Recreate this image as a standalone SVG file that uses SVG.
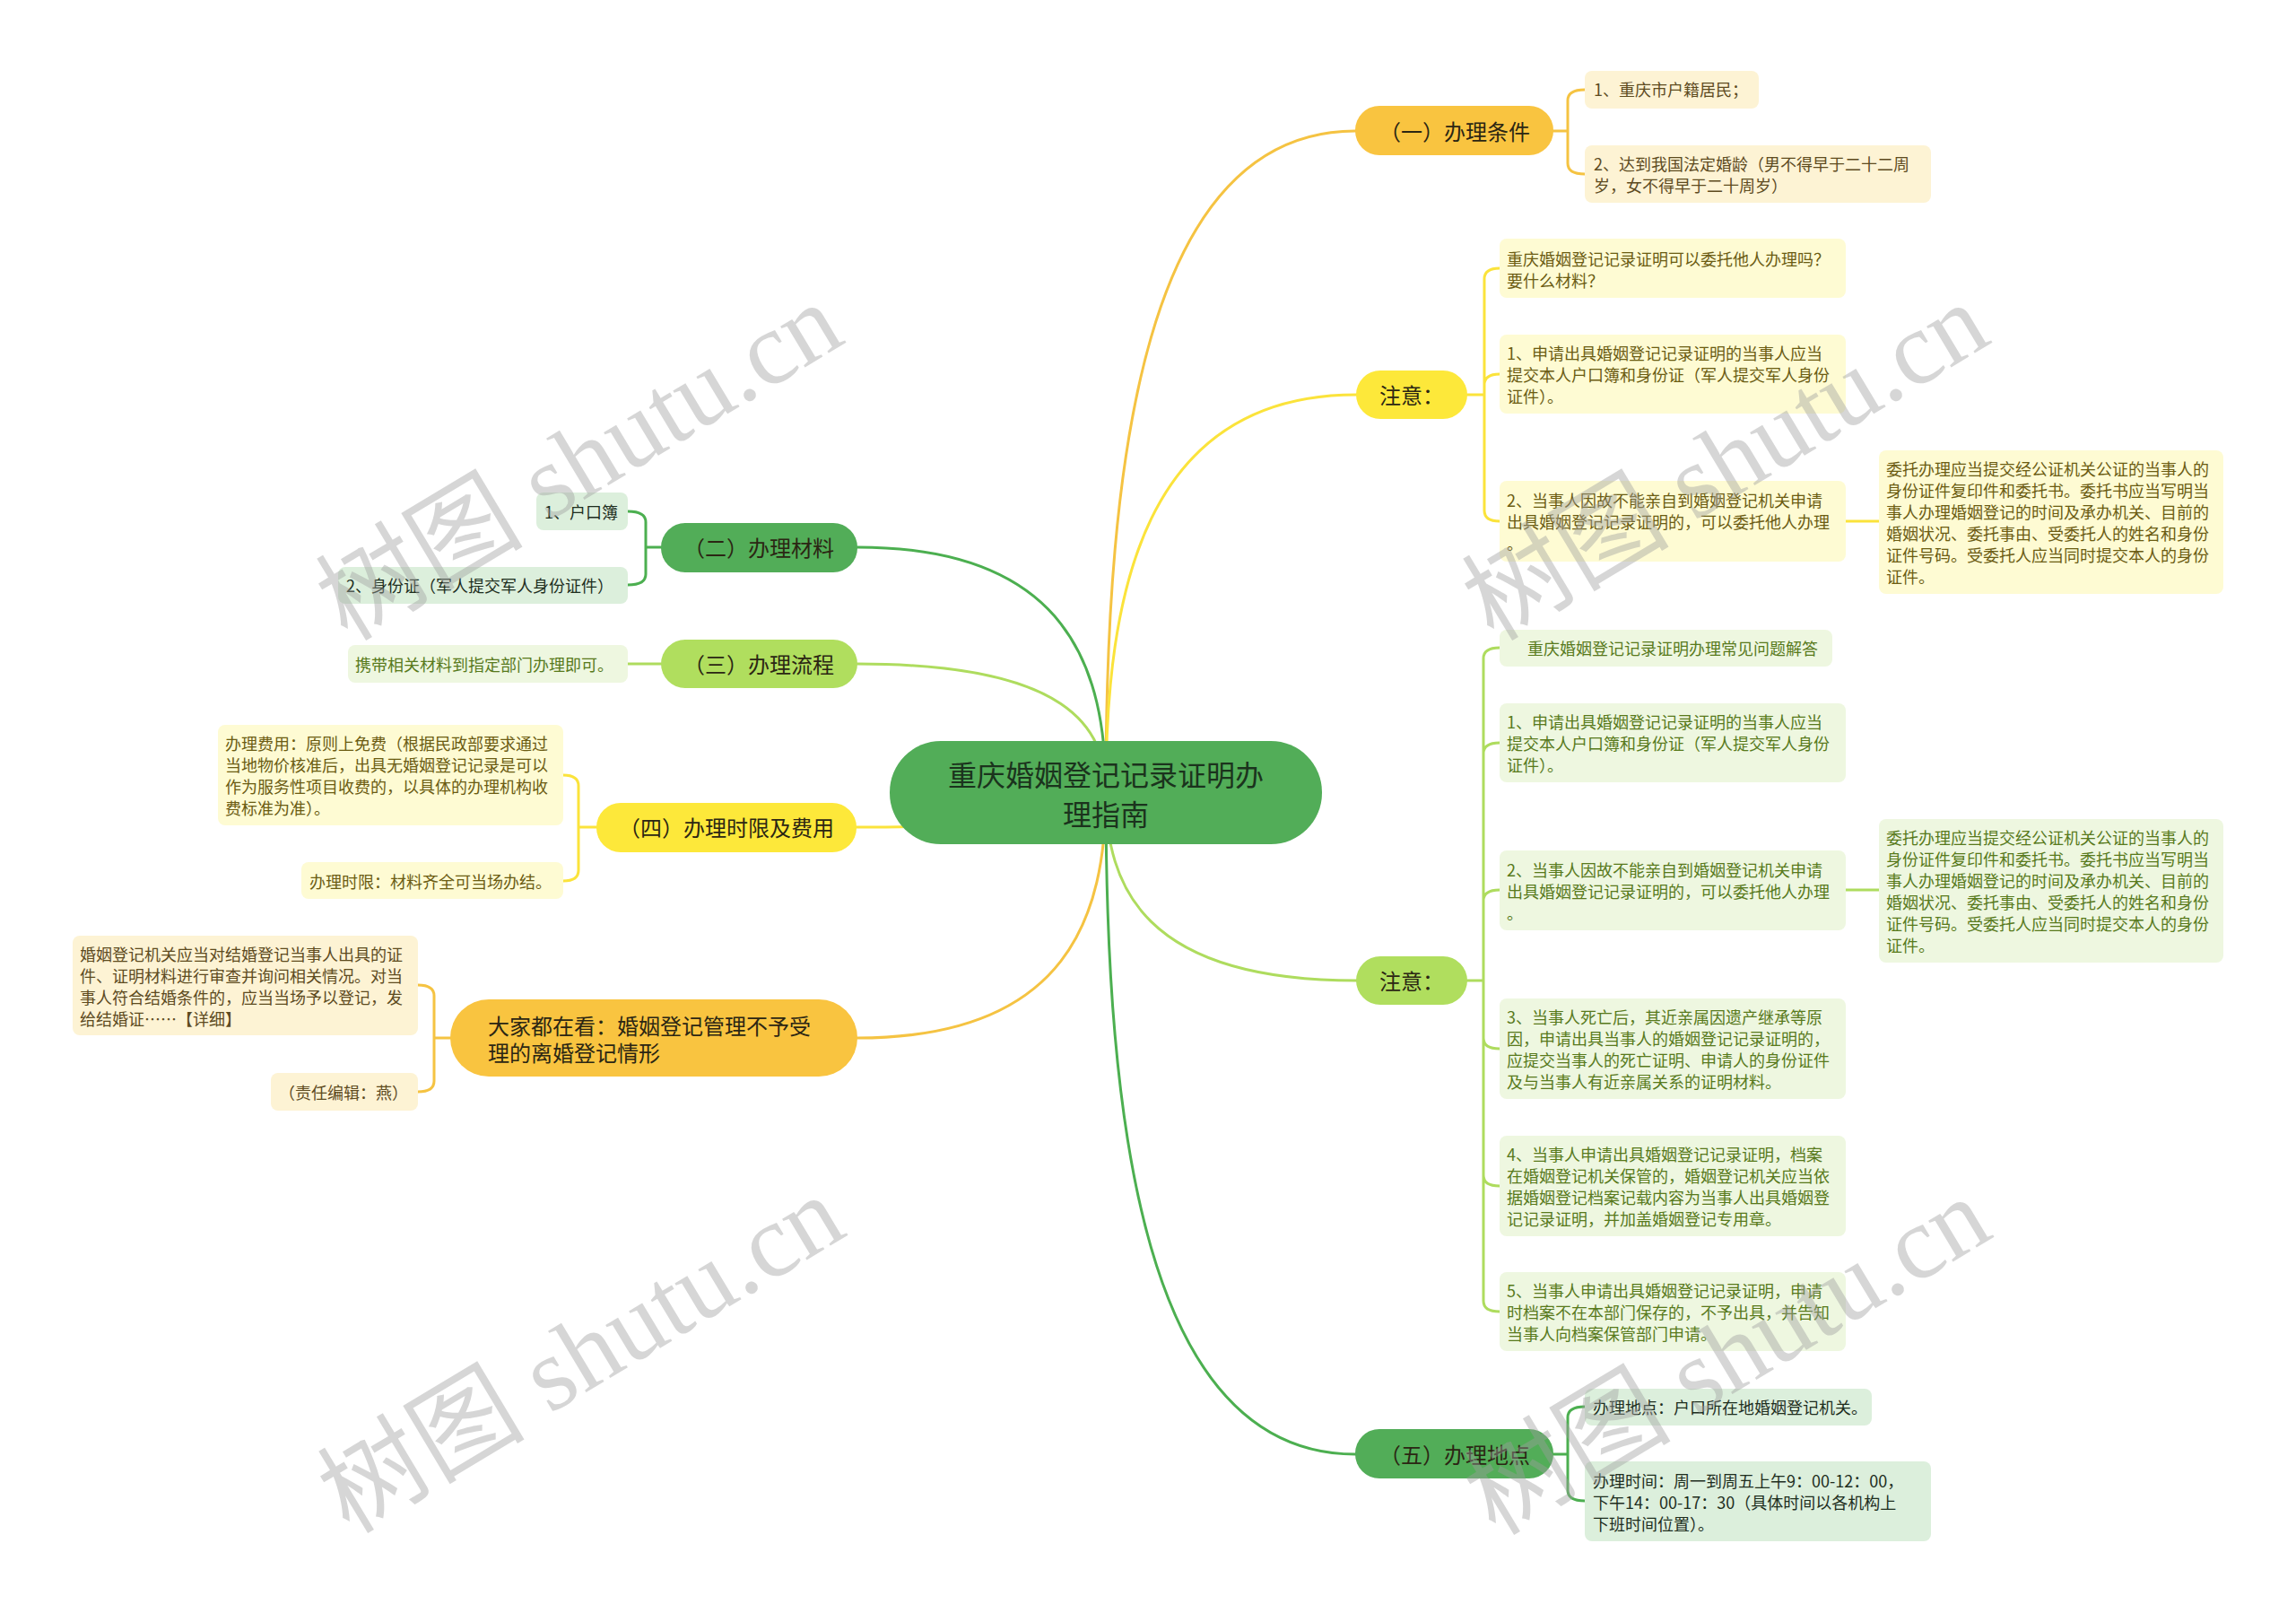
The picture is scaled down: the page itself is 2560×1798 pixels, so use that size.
<svg xmlns="http://www.w3.org/2000/svg" width="2560" height="1798" viewBox="0 0 2560 1798">
<style>
text{font-family:"Noto Sans CJK SC","Noto Sans",sans-serif;dominant-baseline:central}
.main{font-size:32px;fill:#1b331d;text-anchor:middle}
.br{font-size:24px;fill:#2b2613;text-anchor:middle}
.brl{font-size:24px;fill:#2b2613}
.t{font-size:18px}
.tg{fill:#5d4b1f}.ty{fill:#6b5c12}.tl{fill:#587a1c}.td{fill:#1e2e1e}
.bg{fill:#fdf3d4}.by{fill:#fefbd3}.bl{fill:#eef7e0}.bd{fill:#dcefdc}
.c{fill:none;stroke-width:3;stroke-linecap:round}
.cg{stroke:#f5c342}.cy{stroke:#fbe33b}.cl{stroke:#aedc5e}.cd{stroke:#4caf50}
.wm{font-family:"Liberation Serif","Noto Sans CJK SC",serif;font-size:116px;fill:#9e9e9e;fill-opacity:0.42;text-anchor:middle}
</style>
<rect width="2560" height="1798" fill="#ffffff"/>
<g id="connectors">
<path class="c cg" d="M1233 883 C1233 514.5 1274.6 146 1511 146"/>
<path class="c cy" d="M1233 883 C1233 661.5 1274.8 440 1512 440"/>
<path class="c cl" d="M1233 883 C1233 988 1274.8 1093 1512 1093"/>
<path class="c cd" d="M1233 883 C1233 1252 1274.6 1621 1511 1621"/>
<path class="c cd" d="M1233 883 C1233 746.5 1191.5 610 956 610"/>
<path class="c cl" d="M1233 883 C1233 811 1191.5 740 956 740"/>
<path class="c cy" d="M1233 883 C1233 902.5 1191.3 922 955 922"/>
<path class="c cg" d="M1233 883 C1233 1020 1191.5 1157 956 1157"/>
<path class="c cg" d="M1732 146 H1748 V112 Q1748 100 1767 100 M1748 146 V182 Q1748 194 1767 194"/>
<path class="c cy" d="M1636 440 H1655 V311 Q1655 299 1672 299 M1655 440 V429 Q1655 417 1672 417 M1655 440 V569 Q1655 581 1672 581"/>
<path class="c cy" d="M2058 581 H2095"/>
<path class="c cl" d="M1636 1093 H1654 V734 Q1654 722 1672 722 M1654 1093 V840 Q1654 828 1672 828 M1654 1093 V1004 Q1654 992 1672 992 M1654 1093 V1157 Q1654 1169 1672 1169 M1654 1093 V1310 Q1654 1322 1672 1322 M1654 1093 V1450 Q1654 1462 1672 1462"/>
<path class="c cl" d="M2058 992 H2095"/>
<path class="c cd" d="M1732 1621 H1748 V1580 Q1748 1568 1767 1568 M1748 1621 V1661 Q1748 1673 1767 1673"/>
<path class="c cd" d="M737 610 H720 V582 Q720 570 700 570 M720 610 V640 Q720 652 700 652"/>
<path class="c cl" d="M737 740 H700"/>
<path class="c cy" d="M665 922 H645 V876 Q645 864 628 864 M645 922 V970 Q645 982 628 982"/>
<path class="c cg" d="M502 1157 H484 V1110 Q484 1098 466 1098 M484 1157 V1205 Q484 1217 466 1217"/>
</g>
<g id="center">
<rect x="992" y="826" width="482" height="115" rx="57" fill="#52ad58"/>
<text class="main" x="1233" y="862">重庆婚姻登记记录证明办</text>
<text class="main" x="1233" y="906">理指南</text>
</g>
<g id="b1">
<rect x="1511" y="118" width="221" height="55" rx="27" fill="#f9c440"/>
<text class="br" x="1622" y="145">（一）办理条件</text>
</g>
<g id="b1-1">
<rect class="bg" x="1767" y="79" width="194" height="42" rx="8"/>
<text class="t tg" x="1777" y="99">1、重庆市户籍居民；</text>
</g>
<g id="b1-2">
<rect class="bg" x="1767" y="162" width="386" height="64" rx="8"/>
<text class="t tg" x="1777" y="182">2、达到我国法定婚龄（男不得早于二十二周</text>
<text class="t tg" x="1777" y="206">岁，女不得早于二十周岁）</text>
</g>
<g id="b2">
<rect x="1512" y="413" width="124" height="54" rx="27" fill="#fde83a"/>
<text class="br" x="1574" y="439">注意：</text>
</g>
<g id="b2-1">
<rect class="by" x="1672" y="266" width="386" height="66" rx="8"/>
<text class="t ty" x="1680" y="288">重庆婚姻登记记录证明可以委托他人办理吗？</text>
<text class="t ty" x="1680" y="312">要什么材料？</text>
</g>
<g id="b2-2">
<rect class="by" x="1672" y="373" width="386" height="88" rx="8"/>
<text class="t ty" x="1680" y="393">1、申请出具婚姻登记记录证明的当事人应当</text>
<text class="t ty" x="1680" y="417">提交本人户口簿和身份证（军人提交军人身份</text>
<text class="t ty" x="1680" y="441">证件）。</text>
</g>
<g id="b2-3">
<rect class="by" x="1672" y="536" width="386" height="90" rx="8"/>
<text class="t ty" x="1680" y="557">2、当事人因故不能亲自到婚姻登记机关申请</text>
<text class="t ty" x="1680" y="581">出具婚姻登记记录证明的，可以委托他人办理</text>
<text class="t ty" x="1680" y="605">。</text>
</g>
<g id="b2-3-1">
<rect class="by" x="2095" y="502" width="384" height="160" rx="8"/>
<text class="t ty" x="2103" y="522">委托办理应当提交经公证机关公证的当事人的</text>
<text class="t ty" x="2103" y="546">身份证件复印件和委托书。委托书应当写明当</text>
<text class="t ty" x="2103" y="570">事人办理婚姻登记的时间及承办机关、目前的</text>
<text class="t ty" x="2103" y="594">婚姻状况、委托事由、受委托人的姓名和身份</text>
<text class="t ty" x="2103" y="618">证件号码。受委托人应当同时提交本人的身份</text>
<text class="t ty" x="2103" y="642">证件。</text>
</g>
<g id="b3">
<rect x="1512" y="1066" width="124" height="54" rx="27" fill="#b0de5e"/>
<text class="br" x="1574" y="1092">注意：</text>
</g>
<g id="b3-1">
<rect class="bl" x="1672" y="702" width="371" height="41" rx="8"/>
<text class="t tl" x="1703" y="722">重庆婚姻登记记录证明办理常见问题解答</text>
</g>
<g id="b3-2">
<rect class="bl" x="1672" y="784" width="386" height="88" rx="8"/>
<text class="t tl" x="1680" y="804">1、申请出具婚姻登记记录证明的当事人应当</text>
<text class="t tl" x="1680" y="828">提交本人户口簿和身份证（军人提交军人身份</text>
<text class="t tl" x="1680" y="852">证件）。</text>
</g>
<g id="b3-3">
<rect class="bl" x="1672" y="948" width="386" height="89" rx="8"/>
<text class="t tl" x="1680" y="969">2、当事人因故不能亲自到婚姻登记机关申请</text>
<text class="t tl" x="1680" y="993">出具婚姻登记记录证明的，可以委托他人办理</text>
<text class="t tl" x="1680" y="1017">。</text>
</g>
<g id="b3-3-1">
<rect class="bl" x="2095" y="913" width="384" height="160" rx="8"/>
<text class="t tl" x="2103" y="933">委托办理应当提交经公证机关公证的当事人的</text>
<text class="t tl" x="2103" y="957">身份证件复印件和委托书。委托书应当写明当</text>
<text class="t tl" x="2103" y="981">事人办理婚姻登记的时间及承办机关、目前的</text>
<text class="t tl" x="2103" y="1005">婚姻状况、委托事由、受委托人的姓名和身份</text>
<text class="t tl" x="2103" y="1029">证件号码。受委托人应当同时提交本人的身份</text>
<text class="t tl" x="2103" y="1053">证件。</text>
</g>
<g id="b3-4">
<rect class="bl" x="1672" y="1113" width="386" height="112" rx="8"/>
<text class="t tl" x="1680" y="1133">3、当事人死亡后，其近亲属因遗产继承等原</text>
<text class="t tl" x="1680" y="1157">因，申请出具当事人的婚姻登记记录证明的，</text>
<text class="t tl" x="1680" y="1181">应提交当事人的死亡证明、申请人的身份证件</text>
<text class="t tl" x="1680" y="1205">及与当事人有近亲属关系的证明材料。</text>
</g>
<g id="b3-5">
<rect class="bl" x="1672" y="1266" width="386" height="112" rx="8"/>
<text class="t tl" x="1680" y="1286">4、当事人申请出具婚姻登记记录证明，档案</text>
<text class="t tl" x="1680" y="1310">在婚姻登记机关保管的，婚姻登记机关应当依</text>
<text class="t tl" x="1680" y="1334">据婚姻登记档案记载内容为当事人出具婚姻登</text>
<text class="t tl" x="1680" y="1358">记记录证明，并加盖婚姻登记专用章。</text>
</g>
<g id="b3-6">
<rect class="bl" x="1672" y="1418" width="386" height="88" rx="8"/>
<text class="t tl" x="1680" y="1438">5、当事人申请出具婚姻登记记录证明，申请</text>
<text class="t tl" x="1680" y="1462">时档案不在本部门保存的，不予出具，并告知</text>
<text class="t tl" x="1680" y="1486">当事人向档案保管部门申请。</text>
</g>
<g id="b4">
<rect x="1511" y="1593" width="221" height="55" rx="27" fill="#52ad58"/>
<text class="br" x="1622" y="1620">（五）办理地点</text>
</g>
<g id="b4-1">
<rect class="bd" x="1767" y="1548" width="320" height="41" rx="8"/>
<text class="t td" x="1776" y="1568">办理地点：户口所在地婚姻登记机关。</text>
</g>
<g id="b4-2">
<rect class="bd" x="1767" y="1629" width="386" height="89" rx="8"/>
<text class="t td" x="1776" y="1650">办理时间：周一到周五上午9：00-12：00，</text>
<text class="t td" x="1776" y="1674">下午14：00-17：30（具体时间以各机构上</text>
<text class="t td" x="1776" y="1698">下班时间位置）。</text>
</g>
<g id="l1">
<rect x="737" y="583" width="219" height="55" rx="27" fill="#52ad58"/>
<text class="br" x="846" y="609">（二）办理材料</text>
</g>
<g id="l1-1">
<rect class="bd" x="598" y="549" width="102" height="42" rx="8"/>
<text class="t td" x="607" y="570">1、户口簿</text>
</g>
<g id="l1-2">
<rect class="bd" x="377" y="632" width="323" height="41" rx="8"/>
<text class="t td" x="386" y="652">2、身份证（军人提交军人身份证件）</text>
</g>
<g id="l2">
<rect x="737" y="713" width="219" height="54" rx="27" fill="#b0de5e"/>
<text class="br" x="846" y="739">（三）办理流程</text>
</g>
<g id="l2-1">
<rect class="bl" x="388" y="719" width="312" height="42" rx="8"/>
<text class="t tl" x="396" y="740">携带相关材料到指定部门办理即可。</text>
</g>
<g id="l3">
<rect x="665" y="895" width="290" height="55" rx="27" fill="#fde83a"/>
<text class="br" x="810" y="921">（四）办理时限及费用</text>
</g>
<g id="l3-1">
<rect class="by" x="243" y="808" width="385" height="112" rx="8"/>
<text class="t ty" x="251" y="828">办理费用：原则上免费（根据民政部要求通过</text>
<text class="t ty" x="251" y="852">当地物价核准后，出具无婚姻登记记录是可以</text>
<text class="t ty" x="251" y="876">作为服务性项目收费的，以具体的办理机构收</text>
<text class="t ty" x="251" y="900">费标准为准）。</text>
</g>
<g id="l3-2">
<rect class="by" x="336" y="961" width="292" height="41" rx="8"/>
<text class="t ty" x="345" y="982">办理时限：材料齐全可当场办结。</text>
</g>
<g id="l4">
<rect x="502" y="1114" width="454" height="86" rx="43" fill="#f9c440"/>
<text class="brl" x="544" y="1142">大家都在看：婚姻登记管理不予受</text>
<text class="brl" x="544" y="1172">理的离婚登记情形</text>
</g>
<g id="l4-1">
<rect class="bg" x="81" y="1043" width="385" height="111" rx="8"/>
<text class="t tg" x="89" y="1063">婚姻登记机关应当对结婚登记当事人出具的证</text>
<text class="t tg" x="89" y="1087">件、证明材料进行审查并询问相关情况。对当</text>
<text class="t tg" x="89" y="1111">事人符合结婚条件的，应当当场予以登记，发</text>
<text class="t tg" x="89" y="1135">给结婚证……【详细】</text>
</g>
<g id="l4-2">
<rect class="bg" x="302" y="1196" width="164" height="42" rx="8"/>
<text class="t tg" x="311" y="1217">（责任编辑：燕）</text>
</g>
<g id="watermarks">
<text class="wm" transform="translate(646,515) rotate(-31)">树图 shutu.cn</text>
<text class="wm" transform="translate(1924,515) rotate(-31)">树图 shutu.cn</text>
<text class="wm" transform="translate(648,1510) rotate(-31)">树图 shutu.cn</text>
<text class="wm" transform="translate(1926,1512) rotate(-31)">树图 shutu.cn</text>
</g>
</svg>
